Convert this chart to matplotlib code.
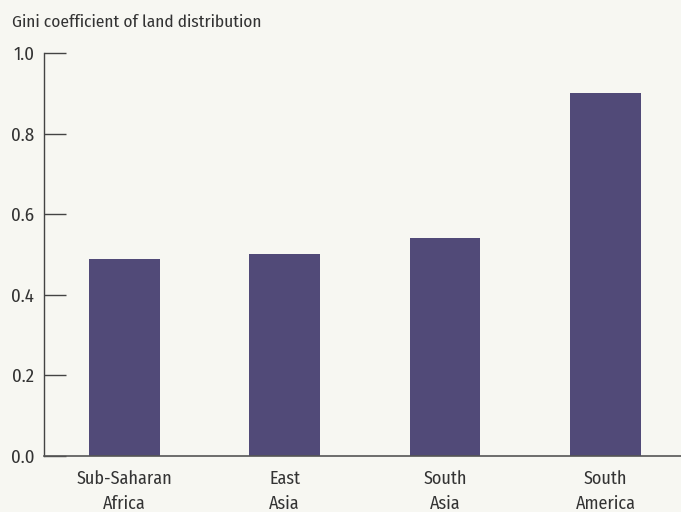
import matplotlib.pyplot as plt

regions = ["Sub-Saharan\nAfrica", "East\nAsia", "South\nAsia", "South\nAmerica"]
gini = [0.49, 0.50, 0.54, 0.90]
yticks = [0.0, 0.2, 0.4, 0.6, 0.8, 1.0]

plt.rcParams["font.family"] = ["Fira Sans Condensed", "PT Sans Narrow", "DejaVu Sans"]

bg = "#f7f7f2"
text_col = "#333333"

fig = plt.figure(figsize=(6.81, 5.12), dpi=100, facecolor=bg)
ax = fig.add_axes([0.0646, 0.1094, 0.9354, 0.7871], facecolor=bg)

ax.bar(range(len(regions)), gini, width=0.44, color="#514a78")

ax.set_xlim(-0.5, 3.47)
ax.set_ylim(0, 1.0)
ax.set_yticks(yticks)
ax.set_yticklabels([f"{t:.1f}" for t in yticks])
ax.set_xticks(range(len(regions)))
ax.set_xticklabels(regions, linespacing=1.55)

for s in ["top", "right"]:
    ax.spines[s].set_visible(False)
ax.spines["left"].set_color("#444444")
ax.spines["bottom"].set_color("#555555")
ax.spines["left"].set_linewidth(1.0)
ax.spines["bottom"].set_linewidth(1.2)

ax.tick_params(axis="y", direction="in", length=16, width=1.0, color="#444444",
               labelsize=13.5, labelcolor=text_col, pad=7)
ax.tick_params(axis="x", length=0, labelsize=13, labelcolor=text_col, pad=10)

fig.text(12 / 681, 1 - 22 / 512, "Gini coefficient of land distribution",
         fontsize=12.5, color=text_col, va="center", ha="left")

fig.savefig("out.png", dpi=100, facecolor=bg)
